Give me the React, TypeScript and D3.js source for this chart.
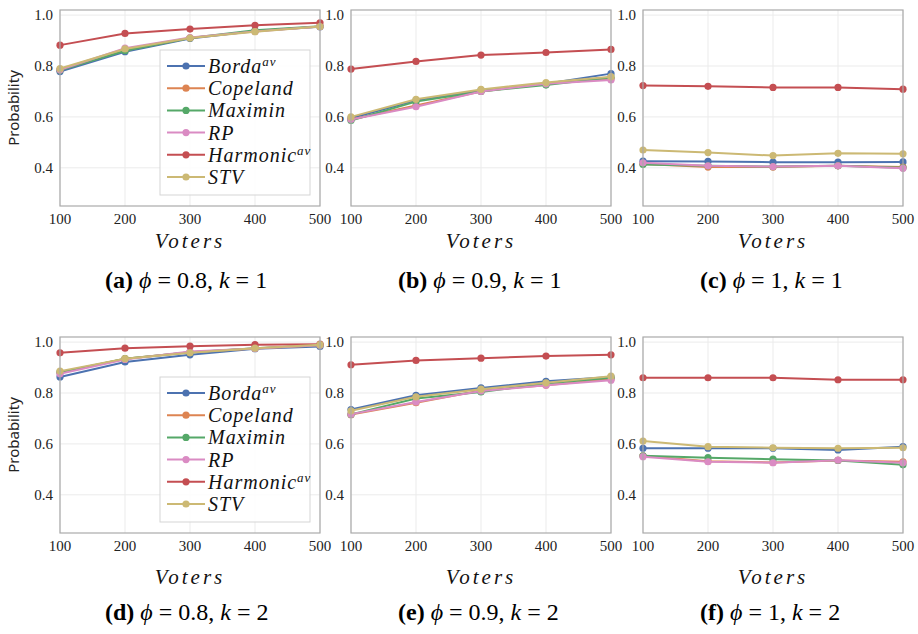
import * as d3 from "d3";
import React, { useEffect, useRef } from "react";

// x values and series names
const voters = [100, 200, 300, 400, 500];
const methods = ["Borda", "Copeland", "Maximin", "RP", "Harmonic", "STV"];
const supers = ["av", "", "", "", "av", ""];
const colors = ["#4C72B0", "#DD8452", "#55A868", "#DA8BC3", "#C44E52", "#CCB974"];
const yTicks = [0.4, 0.6, 0.8, 1.0];

// (a) phi = 0.8, k = 1  -- order: Borda, Copeland, Maximin, RP, Harmonic, STV
const panelA = [
  [0.778, 0.856, 0.908, 0.937, 0.954],
  [0.785, 0.862, 0.91, 0.937, 0.955],
  [0.783, 0.86, 0.91, 0.94, 0.956],
  [0.785, 0.87, 0.912, 0.936, 0.955],
  [0.882, 0.928, 0.945, 0.96, 0.97],
  [0.79, 0.867, 0.91, 0.935, 0.955],
];
// (b) phi = 0.9, k = 1
const panelB = [
  [0.595, 0.665, 0.705, 0.73, 0.77],
  [0.59, 0.645, 0.7, 0.73, 0.75],
  [0.586, 0.66, 0.7, 0.725, 0.755],
  [0.59, 0.64, 0.7, 0.73, 0.745],
  [0.788, 0.818, 0.843, 0.853, 0.865],
  [0.6, 0.669, 0.708, 0.735, 0.758],
];
// (c) phi = 1, k = 1
const panelC = [
  [0.426, 0.425, 0.422, 0.422, 0.423],
  [0.415, 0.403, 0.403, 0.408, 0.403],
  [0.413, 0.408, 0.405, 0.408, 0.4],
  [0.42, 0.408, 0.405, 0.408, 0.398],
  [0.723, 0.72, 0.716, 0.716, 0.709],
  [0.47, 0.46, 0.448, 0.457, 0.455],
];
// (d) phi = 0.8, k = 2
const panelD = [
  [0.863, 0.922, 0.95, 0.974, 0.983],
  [0.88, 0.935, 0.96, 0.975, 0.988],
  [0.882, 0.935, 0.96, 0.976, 0.988],
  [0.876, 0.932, 0.963, 0.975, 0.988],
  [0.958, 0.976, 0.984, 0.99, 0.992],
  [0.886, 0.935, 0.958, 0.976, 0.99],
];
// (e) phi = 0.9, k = 2
const panelE = [
  [0.735, 0.791, 0.82, 0.846, 0.863],
  [0.715, 0.762, 0.81, 0.83, 0.855],
  [0.716, 0.778, 0.804, 0.837, 0.86],
  [0.717, 0.765, 0.808, 0.83, 0.85],
  [0.911, 0.928, 0.937, 0.945, 0.95],
  [0.73, 0.785, 0.815, 0.84, 0.866],
];
// (f) phi = 1, k = 2
const panelF = [
  [0.583, 0.583, 0.583, 0.576, 0.589],
  [0.553, 0.532, 0.527, 0.535, 0.53],
  [0.553, 0.546, 0.54, 0.535, 0.518],
  [0.55, 0.53, 0.526, 0.536, 0.526],
  [0.86, 0.86, 0.86, 0.852, 0.852],
  [0.611, 0.589, 0.585, 0.583, 0.585],
];

const captions = [
  { tag: "(a)", phi: "0.8", k: "1" },
  { tag: "(b)", phi: "0.9", k: "1" },
  { tag: "(c)", phi: "1", k: "1" },
  { tag: "(d)", phi: "0.8", k: "2" },
  { tag: "(e)", phi: "0.9", k: "2" },
  { tag: "(f)", phi: "1", k: "2" },
];

const App = () => {
  const svgRef = useRef<SVGSVGElement>(null);

  useEffect(() => {
    const width = 918;
    const height = 634;
    const svg = d3.select(svgRef.current).attr("width", width).attr("height", height);
    svg.selectAll("*").remove();

    const colX = [60, 351, 643];
    const rowY = [10, 337];
    const capX = [105, 398, 700];
    const capY = [288, 620];
    const voterY = [248, 584];
    const pw = 260;
    const ph = 196;
    const serif = "'Liberation Serif', serif";
    const panels = [panelA, panelB, panelC, panelD, panelE, panelF];

    panels.forEach((panel, pi) => {
      const col = pi % 3;
      const row = Math.floor(pi / 3);
      const g = svg.append("g").attr("transform", `translate(${colX[col]},${rowY[row]})`);

      const x = d3.scaleLinear().domain([100, 500]).range([0, pw]);
      const y = d3.scaleLinear().domain([0.25, 1.02]).range([ph, 0]);

      // grid
      g.selectAll(".gx")
        .data(voters)
        .join("line")
        .attr("x1", (d) => x(d))
        .attr("x2", (d) => x(d))
        .attr("y1", 0)
        .attr("y2", ph)
        .attr("stroke", "#ebebeb")
        .attr("stroke-width", 1);
      g.selectAll(".gy")
        .data(yTicks)
        .join("line")
        .attr("x1", 0)
        .attr("x2", pw)
        .attr("y1", (d) => y(d))
        .attr("y2", (d) => y(d))
        .attr("stroke", "#ebebeb")
        .attr("stroke-width", 1);

      // tick labels
      g.selectAll(".tx")
        .data(voters)
        .join("text")
        .attr("x", (d) => x(d))
        .attr("y", ph + 18)
        .attr("text-anchor", "middle")
        .attr("font-family", serif)
        .attr("font-size", 15)
        .attr("fill", "#222")
        .text((d) => d);
      g.selectAll(".ty")
        .data(yTicks)
        .join("text")
        .attr("x", -7)
        .attr("y", (d) => y(d))
        .attr("dy", "0.35em")
        .attr("text-anchor", "end")
        .attr("font-family", serif)
        .attr("font-size", 15)
        .attr("fill", "#222")
        .text((d) => d.toFixed(1));

      // series
      const line = d3
        .line<number>()
        .x((d, i) => x(voters[i]))
        .y((d) => y(d));
      panel.forEach((vals, si) => {
        g.append("path")
          .attr("d", line(vals))
          .attr("fill", "none")
          .attr("stroke", colors[si])
          .attr("stroke-width", 2);
        g.selectAll(`.pt${si}`)
          .data(vals)
          .join("circle")
          .attr("cx", (d, i) => x(voters[i]))
          .attr("cy", (d) => y(d))
          .attr("r", 3.6)
          .attr("fill", colors[si]);
      });

      // frame
      g.append("rect")
        .attr("width", pw)
        .attr("height", ph)
        .attr("fill", "none")
        .attr("stroke", "#aaaaaa")
        .attr("stroke-width", 1.2);

      // x label
      svg
        .append("text")
        .attr("x", colX[col] + pw / 2)
        .attr("y", voterY[row])
        .attr("text-anchor", "middle")
        .attr("font-family", serif)
        .attr("font-style", "italic")
        .attr("font-size", 21)
        .attr("letter-spacing", 3)
        .attr("fill", "#111")
        .text("Voters");

      // caption
      const c = captions[pi];
      const cap = svg
        .append("text")
        .attr("x", capX[col])
        .attr("y", capY[row])
        .attr("font-family", serif)
        .attr("font-size", 24)
        .attr("fill", "#000");
      cap.append("tspan").attr("font-weight", "bold").text(c.tag + " ");
      cap.append("tspan").attr("font-style", "italic").text("ϕ");
      cap.append("tspan").text(` = ${c.phi}, `);
      cap.append("tspan").attr("font-style", "italic").text("k");
      cap.append("tspan").text(` = ${c.k}`);

      if (col === 0) {
        svg
          .append("text")
          .attr("transform", `translate(19,${rowY[row] + 98}) rotate(-90)`)
          .attr("text-anchor", "middle")
          .attr("font-family", "'Noto Sans', sans-serif")
          .attr("font-size", 15)
          .attr("fill", "#222")
          .text("Probability");

        // legend
        const lg = g.append("g").attr("transform", `translate(100,40)`);
        lg.append("rect")
          .attr("width", 150)
          .attr("height", 145)
          .attr("fill", "white")
          .attr("fill-opacity", 0.85)
          .attr("stroke", "#d5d5d5");
        methods.forEach((m, si) => {
          const ly = 16 + si * 22.2;
          lg.append("line")
            .attr("x1", 7)
            .attr("x2", 45)
            .attr("y1", ly)
            .attr("y2", ly)
            .attr("stroke", colors[si])
            .attr("stroke-width", 2);
          lg.append("circle").attr("cx", 26).attr("cy", ly).attr("r", 3.6).attr("fill", colors[si]);
          const t = lg
            .append("text")
            .attr("x", 48)
            .attr("y", ly)
            .attr("dy", "0.35em")
            .attr("font-family", serif)
            .attr("font-style", "italic")
            .attr("font-size", 20)
            .attr("letter-spacing", 1)
            .attr("fill", "#111");
          t.append("tspan").text(m);
          if (supers[si]) {
            t.append("tspan").attr("font-size", 13).attr("dy", "-0.55em").text(supers[si]);
          }
        });
      }
    });
  }, []);

  return <svg ref={svgRef} style={{ position: "absolute", left: 0, top: 0 }}></svg>;
};

export default App;
